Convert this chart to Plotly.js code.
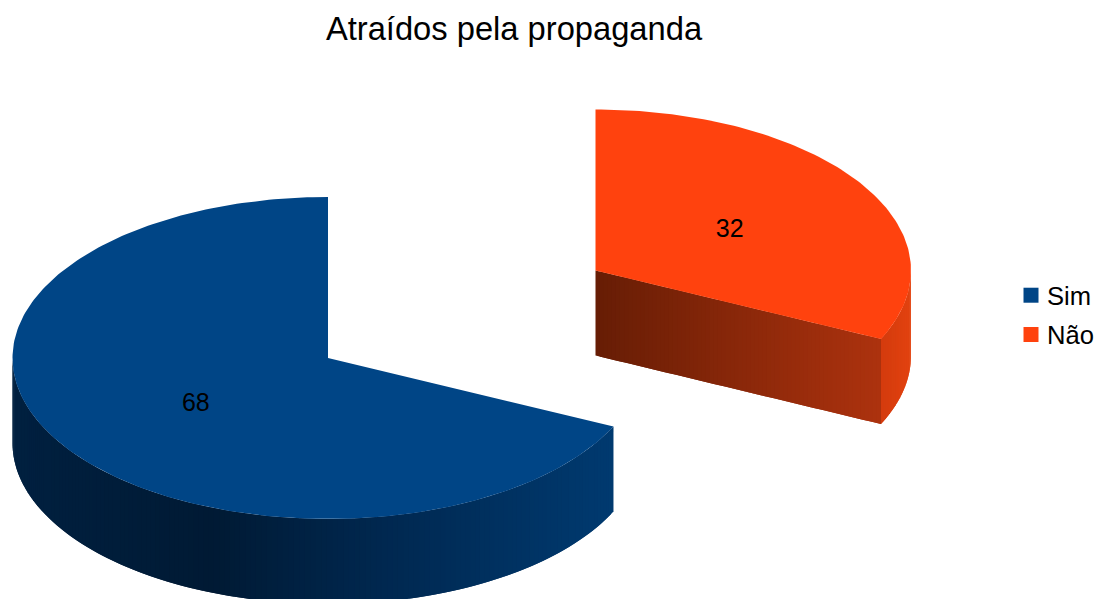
<!DOCTYPE html>
<html>
<head>
<meta charset="utf-8">
<script src="https://cdn.plot.ly/plotly-3.0.1.min.js"></script>
<style>html,body{margin:0;padding:0;background:#fff}#chart{width:1097px;height:599px}</style>
</head>
<body>
<div id="chart"></div>
<script>
// Survey answers
const chartTitle = 'Atraídos pela propaganda';
const categories = ['Sim', 'Não'];
const answers = [68, 32];
const topColors = ['#004586', '#ff420e'];

// Exploded disc geometry, in plot units
const centers = [[328, 358], [595.5, 270.5]];
const radiusX = 315.5;
const radiusY = 161;
const depth = 85;
const labelNudge = [1, 3.5];

// Lighting of the outer rim, keyed by horizontal position on the disc (-1..1)
const rimShades = [
  [[-1, [0, 32, 64]], [-0.35, [0, 26, 52]], [0.2, [0, 40, 80]], [0.92, [0, 58, 112]]],
  [[0.8, [200, 54, 12]], [0.93, [214, 60, 14]], [1, [226, 66, 15]]]
];
// Lighting of the flat cut face, left to right
const cutShade = [[0, [102, 29, 5]], [1, [172, 50, 14]]];

function shade(stops, u) {
  if (u <= stops[0][0]) return stops[0][1];
  for (let i = 1; i < stops.length; i++) {
    if (u <= stops[i][0]) {
      const t = (u - stops[i - 1][0]) / (stops[i][0] - stops[i - 1][0]);
      return stops[i - 1][1].map((c, k) => c + (stops[i][1][k] - c) * t);
    }
  }
  return stops[stops.length - 1][1];
}
const rgb = c => `rgb(${c.map(Math.round).join(',')})`;

// Angles run clockwise from the top of the disc
const rimPoint = (c, deg) => {
  const r = deg * Math.PI / 180;
  return [c[0] + radiusX * Math.sin(r), c[1] - radiusY * Math.cos(r)];
};

function polygon(points, color) {
  return {
    type: 'scatter', mode: 'lines', fill: 'toself', fillcolor: color,
    x: points.map(p => p[0]), y: points.map(p => p[1]),
    line: {width: 0}, hoverinfo: 'skip', showlegend: false
  };
}

// One band of a wall, dropped down by the disc's depth
const band = (p, q, color) =>
  polygon([p, q, [q[0], q[1] + depth], [p[0], p[1] + depth], p], color);

const total = answers.reduce((a, b) => a + b, 0);
const walls = [], tops = [], labels = [];
// The first slice closes at the top of the disc, so the next one opens there
let start = 360 - answers[0] / total * 360;
answers.forEach((value, i) => {
  const end = start + value / total * 360;
  const c = centers[i];

  // Outer rim, between 90 and 270 degrees where it faces the viewer.
  // Bands overlap their neighbour so no seams show, painted from the far end inward.
  const from = Math.max(start, 90), to = Math.min(end, 270);
  const rimStep = 1, rimBands = [];
  for (let a = from; a < to; a += rimStep) {
    const u = Math.sin((a + rimStep / 2) * Math.PI / 180);
    rimBands.push(band(rimPoint(c, a), rimPoint(c, Math.min(a + rimStep * 2, to)),
      rgb(shade(rimShades[i], u))));
  }
  walls.push(...rimBands.reverse());

  // Flat cut face, when the slice's closing edge faces the viewer
  if (end > 90 && end < 270) {
    const e = rimPoint(c, end);
    const steps = 70;
    for (let s = 0; s < steps; s++) {
      const t0 = s / steps, t1 = Math.min((s + 2) / steps, 1);
      const p = [c[0] + (e[0] - c[0]) * t0, c[1] + (e[1] - c[1]) * t0];
      const q = [c[0] + (e[0] - c[0]) * t1, c[1] + (e[1] - c[1]) * t1];
      walls.push(band(p, q, rgb(shade(cutShade, (s + 0.5) / steps))));
    }
  }

  // Top surface
  const outline = [c];
  for (let a = start; a < end; a += 1) outline.push(rimPoint(c, a));
  outline.push(rimPoint(c, end), c);
  tops.push(polygon(outline, topColors[i]));

  // Value label halfway along the slice's middle radius
  const r = (start + end) / 2 * Math.PI / 180;
  labels.push({
    x: c[0] + 0.5 * radiusX * Math.sin(r) + labelNudge[0],
    y: c[1] - 0.5 * radiusY * Math.cos(r) + labelNudge[1],
    v: value
  });
  start = end % 360;
});

const labelTrace = {
  type: 'scatter', mode: 'text',
  x: labels.map(l => l.x), y: labels.map(l => l.y), text: labels.map(l => String(l.v)),
  textposition: 'middle center',
  textfont: {family: 'Liberation Sans', size: 25, color: '#000'},
  hoverinfo: 'skip', showlegend: false
};

const legendKeys = categories.map((name, i) => ({
  type: 'scatter', mode: 'markers', name: name, legendgroup: name,
  x: [null], y: [null],
  marker: {symbol: 'square', size: 15, color: topColors[i]}
}));

Plotly.newPlot('chart', [...walls, ...tops, labelTrace, ...legendKeys], {
  width: 1097, height: 599,
  margin: {l: 0, r: 0, t: 0, b: 0},
  paper_bgcolor: '#fff', plot_bgcolor: '#fff',
  title: {
    text: chartTitle, x: 514 / 1097, xanchor: 'center', y: 0.952, yanchor: 'middle',
    font: {family: 'Liberation Sans', size: 32.7, color: '#000'}
  },
  xaxis: {range: [0, 1097], visible: false, fixedrange: true},
  yaxis: {range: [599, 0], visible: false, fixedrange: true},
  legend: {
    x: 1, xanchor: 'right', y: 0.474, yanchor: 'middle', traceorder: 'grouped',
    tracegroupgap: 3, itemwidth: 30, bgcolor: 'rgba(0,0,0,0)',
    font: {family: 'Liberation Sans', size: 25.6, color: '#000'}
  },
  showlegend: true
}, {displayModeBar: false, staticPlot: true}).then(() => {
  // Tighten the gap between each legend key and its label, and let the block use the right padding
  document.querySelectorAll('.legendpoints').forEach(g => g.setAttribute('transform', 'translate(4,0)'));
  const legend = document.querySelector('.legend');
  const m = /translate\(([-\d.]+)[ ,]+([-\d.]+)\)/.exec(legend.getAttribute('transform'));
  legend.setAttribute('transform', `translate(${parseFloat(m[1]) + 2},${m[2]})`);
});
</script>
</body>
</html>
